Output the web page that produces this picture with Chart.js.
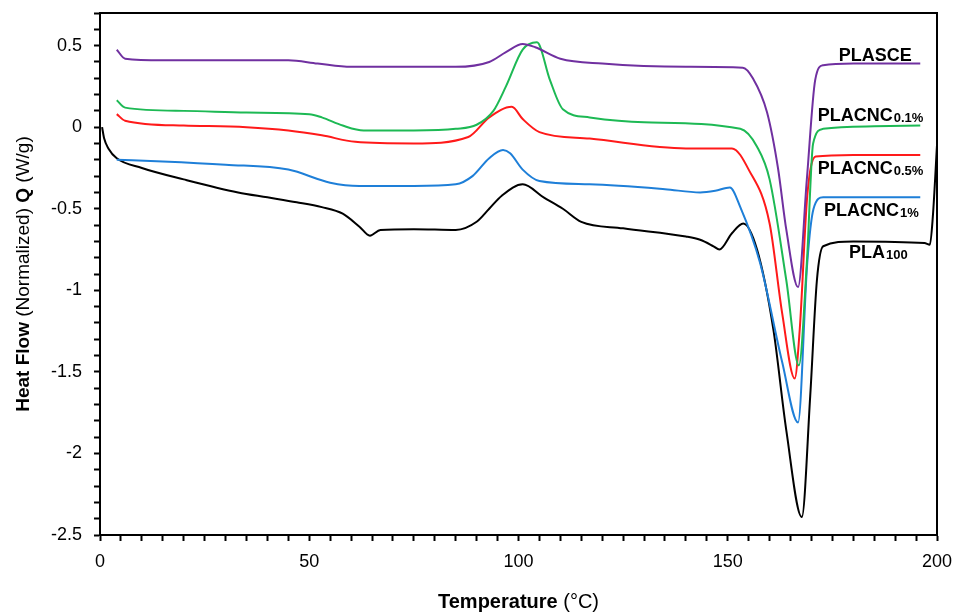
<!DOCTYPE html>
<html><head><meta charset="utf-8">
<script src="https://cdn.jsdelivr.net/npm/chart.js@4/dist/chart.umd.min.js"></script>
<style>html,body{margin:0;background:#fff}#wrap{width:960px;height:612px}</style>
</head><body><div id="wrap"><canvas id="c"></canvas></div>
<script>
// [temperature °C, heat flow W/g]
var plasce = [[4,0.475],[6,0.42],[15,0.41],[30,0.41],[45,0.41],[52,0.39],[60,0.37],[75,0.37],[85,0.37],[93,0.40],[97,0.46],[101,0.51],[104,0.49],[110,0.42],[120,0.39],[140,0.37],[153.6,0.365],[156,0.30],[159.4,0.09],[162,-0.25],[164,-0.63],[166.8,-0.98],[168.9,-0.32],[170.9,0.29],[172.8,0.38],[180,0.39],[196,0.39]];
var cnc01 = [[4,0.165],[6,0.12],[20,0.10],[35,0.09],[50,0.08],[53,0.06],[58,0.01],[63,-0.02],[75,-0.02],[85,-0.01],[90,0.015],[94,0.10],[97,0.25],[101,0.475],[104.4,0.52],[107.5,0.29],[110.6,0.11],[117,0.06],[130,0.03],[153,-0.01],[157,-0.12],[160,-0.32],[164,-0.94],[167,-1.46],[168.9,-0.83],[170.4,-0.1],[172.8,-0.01],[185,0.005],[196,0.01]];
var cnc05 = [[4,0.08],[6,0.04],[20,0.01],[35,0.0],[45,-0.02],[53,-0.05],[61,-0.09],[75,-0.10],[88,-0.06],[93,0.06],[98.4,0.125],[101,0.05],[105,-0.03],[117,-0.07],[140,-0.13],[151,-0.13],[155,-0.26],[160,-0.59],[163,-1.14],[166,-1.54],[167.2,-1.24],[169,-0.42],[171,-0.18],[180,-0.17],[196,-0.17]];
var cnc1 = [[4,-0.2],[15,-0.21],[30,-0.23],[45,-0.26],[55,-0.34],[62,-0.36],[75,-0.36],[85,-0.35],[89,-0.30],[93,-0.19],[96.3,-0.14],[98,-0.16],[101,-0.26],[105,-0.33],[117,-0.35],[135,-0.38],[143.4,-0.40],[147,-0.39],[150.5,-0.37],[153,-0.49],[157.7,-0.83],[163,-1.44],[166.8,-1.81],[169,-0.83],[170.5,-0.5],[172.8,-0.43],[196,-0.43]];
var pla100 = [[0.5,0],[1,-0.07],[2,-0.13],[4,-0.19],[10,-0.25],[20,-0.32],[33,-0.40],[40,-0.43],[47,-0.46],[53,-0.49],[58,-0.53],[62,-0.61],[64.5,-0.665],[67,-0.63],[75,-0.625],[85,-0.63],[90,-0.58],[93,-0.50],[96,-0.42],[101,-0.35],[106,-0.43],[110.6,-0.5],[115,-0.58],[125,-0.62],[140,-0.67],[143.4,-0.69],[146.6,-0.73],[148,-0.75],[151,-0.65],[153.7,-0.59],[157,-0.75],[160.9,-1.24],[164,-1.86],[167.7,-2.39],[169.7,-1.65],[171.3,-0.94],[172.8,-0.73],[180,-0.70],[197,-0.71],[198.3,-0.72],[199,-0.55],[200,-0.11]];
var seriesNames = ["PLASCE","PLACNC0.1%","PLACNC0.5%","PLACNC1%","PLA100"];
var seriesColors = ["#7030a0","#1db954","#ff1a1a","#1e7fd8","#000000"];
var seriesData = [plasce, cnc01, cnc05, cnc1, pla100];
// label: [main, subscript, x (°C), y (W/g)]
var labels = [["PLASCE","",176.5,0.405],["PLACNC","0.1%",171.5,0.04],["PLACNC","0.5%",171.5,-0.29],["PLACNC","1%",173,-0.545],["PLA","100",179,-0.8]];
var xTickLabels = [0,50,100,150,200];

var FONT = "Arial, 'Liberation Sans', sans-serif";
var labelPlugin = {
  id: "labels",
  afterDraw: function (chart) {
    var ctx = chart.ctx, xs = chart.scales.x, ys = chart.scales.y, a = chart.chartArea;
    ctx.save();
    ctx.fillStyle = "#000";
    ctx.textBaseline = "alphabetic";
    labels.forEach(function (l) {
      var x = xs.getPixelForValue(l[2]), y = ys.getPixelForValue(l[3]);
      ctx.font = "bold 18px " + FONT;
      ctx.fillText(l[0], x, y);
      var w = ctx.measureText(l[0]).width;
      ctx.font = "bold 13px " + FONT;
      ctx.fillText(l[1], x + w + 1, y + 1);
    });
    ctx.strokeStyle = "#000"; ctx.lineWidth = 2;
    ctx.strokeRect(a.left, a.top, a.right - a.left, a.bottom - a.top);
    var t1 = "Temperature ", t2 = "(°C)";
    ctx.font = "bold 20px " + FONT; var w1 = ctx.measureText(t1).width;
    ctx.font = "20px " + FONT; var w2 = ctx.measureText(t2).width;
    var sx = (a.left + a.right) / 2 - (w1 + w2) / 2;
    ctx.font = "bold 20px " + FONT; ctx.fillText(t1, sx, 608);
    ctx.font = "20px " + FONT; ctx.fillText(t2, sx + w1, 608);
    var parts = [["Heat Flow ",true],["(Normalized) ",false],["Q ",true],["(W/g)",false]];
    ctx.translate(29, (a.top + a.bottom) / 2);
    ctx.rotate(-Math.PI / 2);
    var tot = 0;
    parts.forEach(function (p) { ctx.font = (p[1] ? "bold " : "") + "19px " + FONT; tot += ctx.measureText(p[0]).width; });
    var px = -tot / 2;
    parts.forEach(function (p) { ctx.font = (p[1] ? "bold " : "") + "19px " + FONT; ctx.fillText(p[0], px, 0); px += ctx.measureText(p[0]).width; });
    ctx.restore();
  }
};

new Chart(document.getElementById("c"), {
  type: "line",
  data: {
    datasets: seriesData.map(function (d, i) {
      return {
        label: seriesNames[i],
        data: d.map(function (p) { return { x: p[0], y: p[1] }; }),
        borderColor: seriesColors[i], borderWidth: 2, pointRadius: 0,
        cubicInterpolationMode: "monotone", fill: false
      };
    })
  },
  options: {
    responsive: true, maintainAspectRatio: false, animation: false,
    layout: { padding: { top: 13, right: 23, left: 0, bottom: 0 } },
    plugins: { legend: { display: false }, tooltip: { enabled: false } },
    scales: {
      x: {
        type: "linear", min: 0, max: 200,
        afterFit: function (s) { s.height = 77; s.paddingLeft = 0; s.paddingRight = 0; },
        grid: { drawOnChartArea: false, color: "#000", tickLength: 6, tickWidth: 2 },
        border: { color: "#000", width: 2 },
        ticks: { stepSize: 5, autoSkip: false, color: "#000", padding: 10, font: { size: 18, family: FONT }, maxRotation: 0,
          callback: function (v) { return xTickLabels.indexOf(v) >= 0 ? String(v) : ""; } }
      },
      y: {
        min: -2.5, max: 0.7,
        afterFit: function (s) { s.width = 100; s.paddingTop = 0; s.paddingBottom = 0; },
        grid: { drawOnChartArea: false, color: "#000", tickLength: 6, tickWidth: 2 },
        border: { color: "#000", width: 2 },
        ticks: { stepSize: 0.1, autoSkip: false, color: "#000", padding: 12, font: { size: 18, family: FONT },
          callback: function (v) {
            var r = Math.round(v * 10);
            if (r % 5 !== 0 || r > 5) return "";
            return String(r / 10);
          } }
      }
    }
  },
  plugins: [labelPlugin]
});
</script></body></html>
